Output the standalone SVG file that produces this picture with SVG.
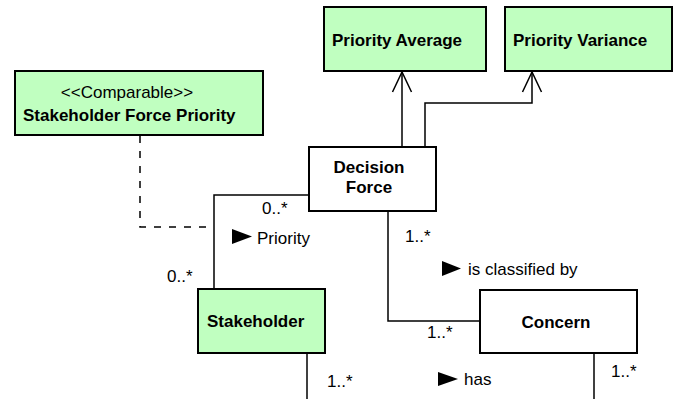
<svg xmlns="http://www.w3.org/2000/svg" width="675" height="399" viewBox="0 0 675 399">
  <style>
    .box { stroke: #000; stroke-width: 2; }
    .green { fill: #c0ffc0; }
    .white { fill: #fff; }
    .t { font-family: "Liberation Sans", Arial, Helvetica, sans-serif; font-size: 17px; fill: #000; }
    .b { font-weight: bold; }
    .line { fill: none; stroke: #000; stroke-width: 1.5; }
    .dash { fill: none; stroke: #000; stroke-width: 1.5; stroke-dasharray: 7 8; }
  </style>
  <defs>
    <!-- open arrowhead, tip pointing along +x -->
    <marker id="open" viewBox="0 0 24 22" refX="22" refY="11" markerWidth="24" markerHeight="22" markerUnits="userSpaceOnUse" orient="auto">
      <path d="M2,1.5 L22,11 L2,20.5" fill="none" stroke="#000" stroke-width="1.5"/>
    </marker>
  </defs>
  <rect width="675" height="399" fill="#fff"/>

  <g id="connectors">
    <!-- Decision Force to Priority Average -->
    <path class="line" d="M402,147 L402,72" marker-end="url(#open)"/>
    <!-- Decision Force to Priority Variance -->
    <path class="line" d="M425,147 L425,103 L532,103 L532,72" marker-end="url(#open)"/>
    <!-- Priority association -->
    <path class="line" d="M309,195 L214,195 L214,289"/>
    <!-- association class link -->
    <path class="dash" d="M140,136 L140,227 L212,227"/>
    <!-- is classified by -->
    <path class="line" d="M388,211 L388,321 L480,321"/>
    <!-- has -->
    <path class="line" d="M307,353 L307,399"/>
    <path class="line" d="M594,353 L594,399"/>
  </g>

  <g id="labels">
    <text class="t" x="262" y="214">0..*</text>
    <path d="M232,229 L252,236.5 L232,244 Z" fill="#000"/>
    <text class="t" x="257" y="244">Priority</text>
    <text class="t" x="167" y="282">0..*</text>
    <text class="t" x="405" y="242">1..*</text>
    <path d="M442,261 L461,268.5 L442,276 Z" fill="#000"/>
    <text class="t" x="468" y="275">is classified by</text>
    <text class="t" x="427" y="338">1..*</text>
    <text class="t" x="327" y="387">1..*</text>
    <path d="M438,372 L458,379 L438,386 Z" fill="#000"/>
    <text class="t" x="464" y="385">has</text>
    <text class="t" x="611" y="377">1..*</text>
  </g>

  <g id="stakeholder-force-priority">
    <rect class="box green" x="15" y="71" width="248" height="64"/>
    <text class="t" x="127" y="98" text-anchor="middle">&lt;&lt;Comparable&gt;&gt;</text>
    <text class="t b" x="23" y="121">Stakeholder Force Priority</text>
  </g>

  <g id="priority-average">
    <rect class="box green" x="324" y="7" width="162" height="64"/>
    <text class="t b" x="332" y="46">Priority Average</text>
  </g>

  <g id="priority-variance">
    <rect class="box green" x="505" y="7" width="167" height="64"/>
    <text class="t b" x="513" y="46">Priority Variance</text>
  </g>

  <g id="decision-force">
    <rect class="box white" x="309" y="147" width="127" height="64"/>
    <text class="t b" x="369" y="173" text-anchor="middle">Decision</text>
    <text class="t b" x="369" y="193" text-anchor="middle">Force</text>
  </g>

  <g id="stakeholder">
    <rect class="box green" x="198" y="289" width="127" height="64"/>
    <text class="t b" x="207" y="327">Stakeholder</text>
  </g>

  <g id="concern">
    <rect class="box white" x="480" y="290" width="157" height="63"/>
    <text class="t b" x="556" y="328" text-anchor="middle">Concern</text>
  </g>
</svg>
